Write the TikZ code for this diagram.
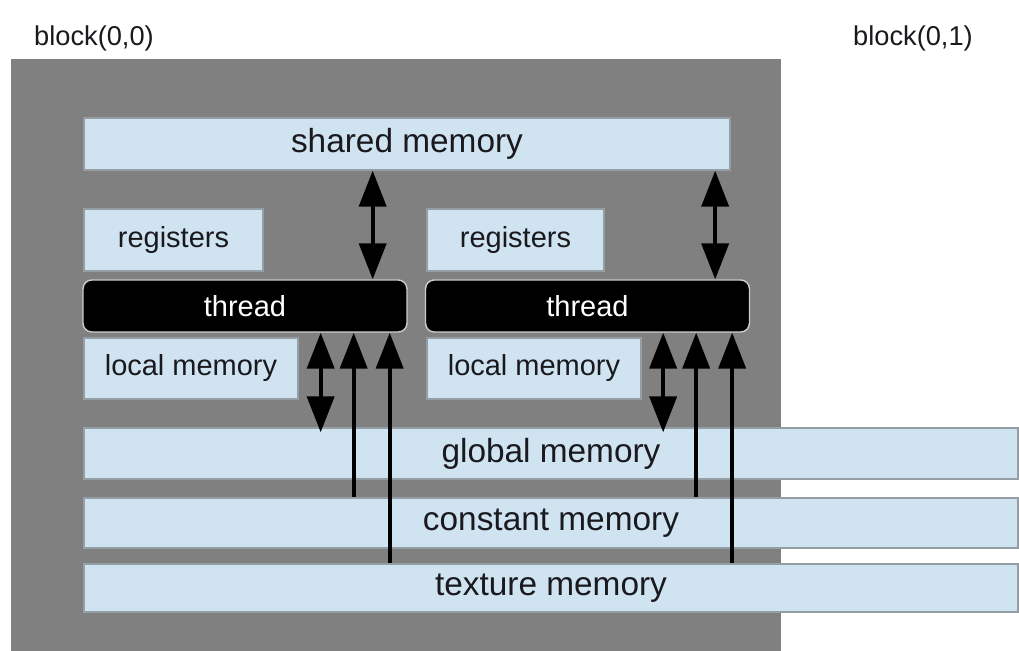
\documentclass[tikz,border=0pt]{standalone}
\usepackage{fontspec}
\setmainfont{Liberation Sans}
\usetikzlibrary{arrows.meta, calc}
\definecolor{blockgray}{RGB}{128,128,128}
\definecolor{memblue}{RGB}{207,227,241}
\definecolor{memedge}{RGB}{150,158,165}
\definecolor{threadedge}{RGB}{205,205,205}
\definecolor{labelink}{RGB}{25,25,30}

\begin{document}
\begin{tikzpicture}[
  x=0.02cm, y=-0.02cm,
  mem/.style={
    draw=memedge,
    line width=0.8pt,
    fill=memblue,
    inner sep=0pt,
    text=labelink
  },
  bigmem/.style={mem, font=\fontsize{19}{22}\selectfont},
  smallmem/.style={mem, font=\fontsize{16.5}{20}\selectfont},
  threadbox/.style={
    draw=threadedge,
    line width=0.8pt,
    fill=black,
    rounded corners=5pt,
    inner sep=0pt,
    text=white,
    minimum width=6.48cm,
    minimum height=1.04cm,
    font=\fontsize{16.5}{20}\selectfont
  },
  link/.style={line width=2.3pt, -{Triangle[length=0.72cm, width=0.54cm]}},
  duplex/.style={line width=2.3pt,
    {Triangle[length=0.72cm, width=0.54cm]}-{Triangle[length=0.72cm, width=0.54cm]}}
]
\useasboundingbox (0,0) rectangle (1019,651);

% the block and its name
\node[fill=blockgray, inner sep=0pt, minimum width=15.4cm, minimum height=11.84cm]
  (block00) at (396,355) {};
\node[anchor=west, text=labelink, font=\fontsize{15.5}{18}\selectfont] (name00) at (28,38) {block(0,0)};
\node[anchor=west, text=labelink, font=\fontsize{15.5}{18}\selectfont] (name01) at (847,38) {block(0,1)};

% per block / per thread memories
\node[bigmem, minimum width=12.92cm, minimum height=1.04cm] (shared) at (407,144) {shared memory};
\node[smallmem, minimum width=3.58cm, minimum height=1.24cm] (reg1) at (173.5,240) {registers};
\node[smallmem, minimum width=3.54cm, minimum height=1.24cm] (reg2) at (515.5,240) {registers};
\node[threadbox] (thread1) at (245,306) {thread};
\node[threadbox] (thread2) at (587.5,306) {thread};
\node[smallmem, minimum width=4.28cm, minimum height=1.22cm] (local1) at (191,368.5) {local memory};
\node[smallmem, minimum width=4.28cm, minimum height=1.22cm] (local2) at (534,368.5) {local memory};

% memories shared by all blocks
\node[bigmem, minimum width=18.68cm, minimum height=1.02cm] (global) at (551,453.5) {global memory};
\node[bigmem, minimum width=18.68cm, minimum height=1.0cm] (constant) at (551,523) {constant memory};
\node[bigmem, minimum width=18.68cm, minimum height=0.96cm] (texture) at (551,588) {texture memory};

% accesses of each thread
\foreach \t in {1,2} {
  \coordinate (sh\t) at ($(thread\t.east)+(-35,0)$);
  \coordinate (gl\t) at ($(thread\t.east)+(-87,0)$);
  \coordinate (co\t) at ($(thread\t.east)+(-54,0)$);
  \coordinate (tx\t) at ($(thread\t.east)+(-18,0)$);
  \draw[duplex] (thread\t.north -| sh\t) -- (shared.south -| sh\t);
  \draw[duplex] (thread\t.south -| gl\t) -- ($(global.north -| gl\t)+(0,5)$);
  \draw[link] (constant.north -| co\t) -- (thread\t.south -| co\t);
  \draw[link] (texture.north -| tx\t) -- (thread\t.south -| tx\t);
}
\end{tikzpicture}
\end{document}
